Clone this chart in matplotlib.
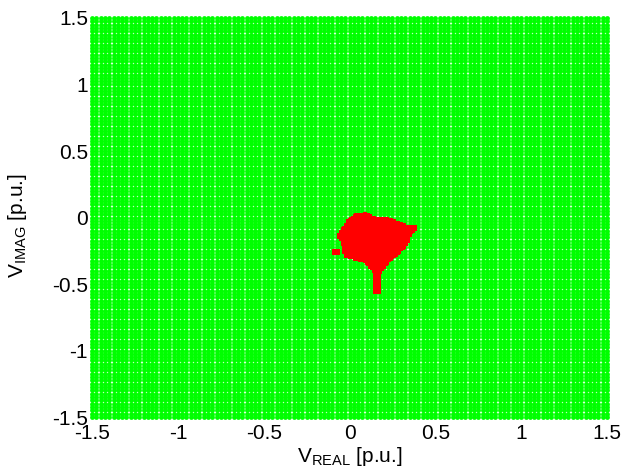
import numpy as np
import matplotlib
matplotlib.use('Agg')
import matplotlib.pyplot as plt
from matplotlib.path import Path

plt.rcParams['font.family'] = ['Liberation Sans', 'DejaVu Sans']
plt.rcParams['mathtext.fontset'] = 'custom'
plt.rcParams['mathtext.rm'] = 'Liberation Sans'

# sampled operating points (grid of initial voltages)
v_real = np.linspace(-1.5, 1.5, 121)
v_imag = np.linspace(-1.5, 1.5, 121)
# finer sampling used for the red region
fine = np.linspace(-1.5, 1.5, 301)

# outline of the red (non-convergent) region
blob_x = [-0.007, 0.032, 0.090, 0.119, 0.149, 0.197, 0.246, 0.294, 0.342, 0.382, 0.391,
          0.352, 0.342, 0.323, 0.294, 0.255, 0.217, 0.197, 0.178, 0.149, 0.129, 0.090,
          0.051, 0.013, -0.026, -0.036, -0.045, -0.065, -0.055, -0.026]
blob_y = [-0.019, 0.019, 0.032, 0.019, -0.006, -0.002, -0.019, -0.044, -0.069, -0.062, -0.086,
          -0.119, -0.182, -0.220, -0.257, -0.295, -0.344, -0.382, -0.420, -0.420, -0.382, -0.332,
          -0.320, -0.307, -0.295, -0.232, -0.169, -0.144, -0.107, -0.069]
tail_x = [0.145, 0.178, 0.178, 0.145]
tail_y = [-0.445, -0.445, -0.57, -0.57]
dot_x = [-0.094, -0.065, -0.065, -0.094]
dot_y = [-0.244, -0.244, -0.277, -0.277]
regions = [(blob_x, blob_y), (tail_x, tail_y), (dot_x, dot_y)]


def inside(pts):
    m = np.zeros(len(pts), dtype=bool)
    for px, py in regions:
        m |= Path(np.column_stack([px, py])).contains_points(pts)
    return m


X, Y = np.meshgrid(v_real, v_imag)
pts = np.column_stack([X.ravel(), Y.ravel()])
FX, FY = np.meshgrid(fine, fine)
fpts = np.column_stack([FX.ravel(), FY.ravel()])
red_pts = fpts[inside(fpts)]

fig = plt.figure(figsize=(6.22, 4.71), dpi=100)
ax = fig.add_axes([0.148, 0.1146, 0.828, 0.8472])
ax.scatter(pts[:, 0], pts[:, 1], s=12, c='#00ff00', marker='o', linewidths=0,
           zorder=3, clip_on=False)
ax.scatter(red_pts[:, 0], red_pts[:, 1], s=6, c='#ff0000', marker='s', linewidths=0,
           zorder=4, clip_on=False)

ax.set_xlim(-1.5, 1.5)
ax.set_ylim(-1.5, 1.5)
ticks = [-1.5, -1, -0.5, 0, 0.5, 1, 1.5]
labels = ['-1.5', '-1', '-0.5', '0', '0.5', '1', '1.5']
ax.set_xticks(ticks)
ax.set_xticklabels(labels)
ax.set_yticks(ticks)
ax.set_yticklabels(labels)
ax.tick_params(direction='in', length=3, labelsize=15)
ax.tick_params(axis='x', pad=5)
ax.tick_params(axis='y', pad=3)
for sp in ax.spines.values():
    sp.set_visible(False)

ax.set_xlabel(r'$\mathregular{V_{REAL}}$ [p.u.]', fontsize=15)
ax.set_ylabel(r'$\mathregular{V_{IMAG}}$ [p.u.]', fontsize=15)
ax.xaxis.set_label_coords(0.5, -0.07)
ax.yaxis.set_label_coords(-0.122, 0.48)

fig.savefig('out.png', dpi=100)
